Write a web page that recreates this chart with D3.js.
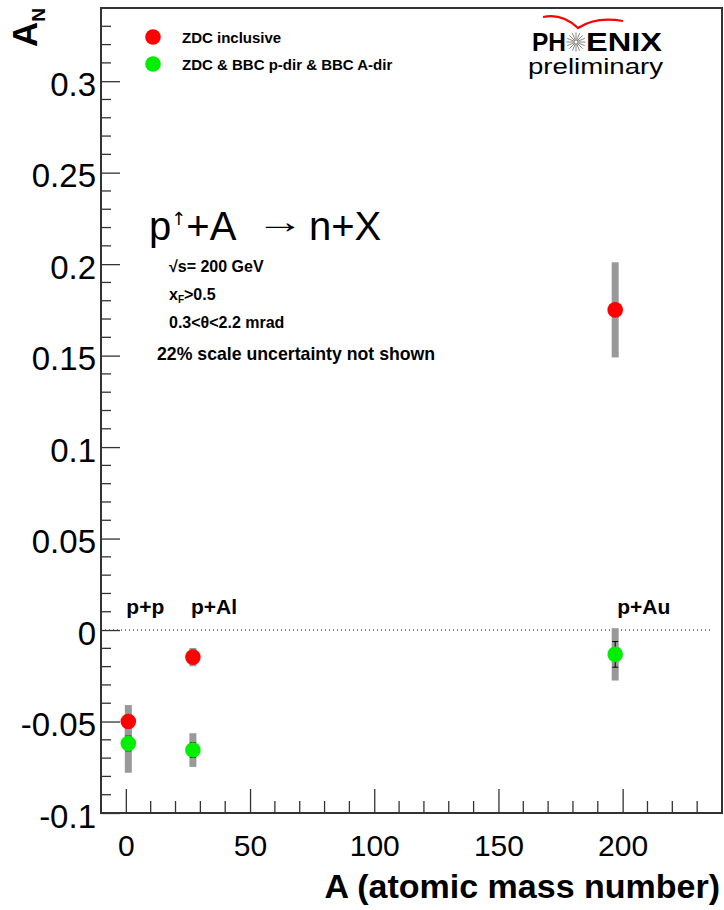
<!DOCTYPE html>
<html>
<head>
<meta charset="utf-8">
<script src="https://cdn.jsdelivr.net/npm/d3@7"></script>
<style>
  html, body { margin: 0; padding: 0; background: #fff; }
  svg { display: block; }
  text { font-family: "Liberation Sans", Arial, Helvetica, sans-serif; }
</style>
</head>
<body>
<svg id="chart" width="724" height="910"></svg>
<script>
// ---- data ----
const systems = ["p+p", "p+Al", "p+Au"];
const massNumber = [1, 27, 197];
const zdcInclusive = [-0.050, -0.0148, 0.175];
const zdcInclusiveSys = [0.009, 0.005, 0.026];
const zdcInclusiveStat = [0.003, 0.003, 0.003];
const zdcBbc = [-0.062, -0.0656, -0.0133];
const zdcBbcSys = [0.016, 0.0092, 0.0143];
const zdcBbcStat = [0.004, 0.004, 0.007];
const seriesNames = ["ZDC inclusive", "ZDC & BBC p-dir & BBC A-dir"];
const seriesColors = ["#ff0000", "#00ee00"];
const xTickValues = [0, 50, 100, 150, 200];
const xTickLabels = ["0", "50", "100", "150", "200"];
const yTickValues = [-0.1, -0.05, 0, 0.05, 0.1, 0.15, 0.2, 0.25, 0.3];
const yTickLabels = ["-0.1", "-0.05", "0", "0.05", "0.1", "0.15", "0.2", "0.25", "0.3"];
const infoLines = ["\u221As= 200 GeV", "x_F>0.5", "0.3<\u03b8<2.2 mrad", "22% scale uncertainty not shown"];

// ---- layout ----
const svg = d3.select("#chart");
const L = 101, R = 722, T = 8, B = 813;
const x = d3.scaleLinear().domain([-10, 240]).range([L, R]);
const y = d3.scaleLinear().domain([-0.1, 0.34]).range([B, T]);
const frameColor = "#333";

// zero line
svg.append("line")
  .attr("x1", L).attr("x2", x(236))
  .attr("y1", y(0)).attr("y2", y(0))
  .attr("stroke", "#000").attr("stroke-width", 1)
  .attr("stroke-dasharray", "1,3");

// frame
svg.append("rect").attr("x", L).attr("y", T).attr("width", R - L).attr("height", B - T)
  .attr("fill", "none").attr("stroke", frameColor).attr("stroke-width", 2);

// x axis
const xMinor = d3.range(0, 241, 10).filter(v => v % 50 !== 0);
const gx = svg.append("g").attr("transform", `translate(0,${B})`);
gx.call(d3.axisBottom(x).tickValues(xTickValues).tickSize(-24).tickPadding(0)
  .tickFormat((d, i) => xTickLabels[i]));
gx.call(g => g.select(".domain").remove());
gx.selectAll(".tick line").attr("stroke", frameColor).attr("stroke-width", 1.3);
gx.selectAll(".tick text").attr("y", 43).attr("dy", 0)
  .attr("font-size", 30).attr("fill", "#000");
gx.selectAll(".minor").data(xMinor).enter().append("line")
  .attr("x1", d => x(d)).attr("x2", d => x(d)).attr("y1", 0).attr("y2", -12)
  .attr("stroke", frameColor).attr("stroke-width", 1.3);

// y axis
const yMinor = d3.range(-10, 35, 1).filter(v => v % 5 !== 0).map(v => v / 100);
const gy = svg.append("g").attr("transform", `translate(${L},0)`);
gy.call(d3.axisLeft(y).tickValues(yTickValues).tickSize(-19).tickPadding(0)
  .tickFormat((d, i) => yTickLabels[i]));
gy.call(g => g.select(".domain").remove());
gy.selectAll(".tick line").attr("stroke", frameColor).attr("stroke-width", 1.3);
gy.selectAll(".tick text").attr("x", -5).attr("dy", 14)
  .attr("font-size", 33).attr("fill", "#000");
gy.selectAll(".minor").data(yMinor).enter().append("line")
  .attr("x1", 0).attr("x2", 10).attr("y1", d => y(d)).attr("y2", d => y(d))
  .attr("stroke", frameColor).attr("stroke-width", 1.3);

// axis titles
svg.append("text").attr("x", 720).attr("y", 898).attr("text-anchor", "end")
  .attr("font-size", 34).attr("font-weight", "bold").text("A (atomic mass number)");
const yt = svg.append("text").attr("transform", "translate(37,8) rotate(-90)")
  .attr("text-anchor", "end").attr("font-weight", "bold");
yt.append("tspan").attr("font-size", 35).text("A");
yt.append("tspan").attr("font-size", 19).attr("dy", 8).text("N");

// points
const series = [
  { vals: zdcInclusive, sys: zdcInclusiveSys, stat: zdcInclusiveStat, color: seriesColors[0] },
  { vals: zdcBbc, sys: zdcBbcSys, stat: zdcBbcStat, color: seriesColors[1] }
];
const gSys = svg.append("g"), gStat = svg.append("g"), gPts = svg.append("g");
series.forEach(s => {
  const rows = massNumber.map((a, i) => ({ a, v: s.vals[i], sys: s.sys[i], st: s.stat[i] }));
  gSys.selectAll(null).data(rows).enter().append("rect")
    .attr("x", d => x(d.a) - 3.5).attr("width", 7)
    .attr("y", d => y(d.v + d.sys)).attr("height", d => y(d.v - d.sys) - y(d.v + d.sys))
    .attr("fill", "#999");
  rows.forEach(d => {
    const g = gStat.append("g").attr("stroke", "#000").attr("stroke-width", 1);
    g.append("line").attr("x1", x(d.a)).attr("x2", x(d.a)).attr("y1", y(d.v + d.st)).attr("y2", y(d.v - d.st));
    g.append("line").attr("x1", x(d.a) - 3).attr("x2", x(d.a) + 3).attr("y1", y(d.v + d.st)).attr("y2", y(d.v + d.st));
    g.append("line").attr("x1", x(d.a) - 3).attr("x2", x(d.a) + 3).attr("y1", y(d.v - d.st)).attr("y2", y(d.v - d.st));
  });
  gPts.selectAll(null).data(rows).enter().append("circle")
    .attr("cx", d => x(d.a)).attr("cy", d => y(d.v)).attr("r", 7.8)
    .attr("fill", s.color);
});

// system labels
svg.selectAll(".sys").data(systems).enter().append("text")
  .attr("x", (d, i) => x(massNumber[i]) - 2 + (i === 2 ? 4 : 0)).attr("y", 614)
  .attr("font-size", 21).attr("font-weight", "bold").text(d => d);

// legend
seriesNames.forEach((n, i) => {
  svg.append("circle").attr("cx", 153).attr("cy", 37 + i * 27).attr("r", 7.8).attr("fill", seriesColors[i]);
  svg.append("text").attr("x", 182).attr("y", 42.5 + i * 27).attr("font-size", 15)
    .attr("font-weight", "bold").text(n);
});

// reaction formula
const f = svg.append("g").attr("font-size", 40);
const f1 = f.append("text").attr("x", 149).attr("y", 240);
f1.append("tspan").text("p");
f1.append("tspan").attr("font-family", "DejaVu Sans").attr("font-size", 18)
  .attr("dy", -15).text("\u2191");
f1.append("tspan").attr("dy", 15).text("+A");
f.append("text").attr("x", 256).attr("y", 233).attr("font-family", "DejaVu Sans")
  .attr("textLength", 48).attr("lengthAdjust", "spacingAndGlyphs")
  .attr("font-size", 34).text("\u2192");
f.append("text").attr("x", 309).attr("y", 240).text("n+X");

// info lines
const info = svg.append("g").attr("font-weight", "bold").attr("font-size", 16);
info.append("text").attr("x", 169).attr("y", 272).text(infoLines[0]);
const xf = info.append("text").attr("x", 169).attr("y", 300);
xf.append("tspan").text("x");
xf.append("tspan").attr("font-size", 10).attr("dy", 3).text("F");
xf.append("tspan").attr("dy", -3).text(infoLines[1].split("_F")[1]);
info.append("text").attr("x", 169).attr("y", 328).text(infoLines[2]);
info.append("text").attr("x", 157).attr("y", 360).attr("font-size", 17.7).text(infoLines[3]);

// PHENIX logo
const logo = svg.append("g");
logo.append("path").attr("d", "M543,17 Q562,13 578,28 Q596,16 623,21")
  .attr("fill", "none").attr("stroke", "#ff0000").attr("stroke-width", 2.2);
logo.append("text").attr("x", 532).attr("y", 51).attr("font-family", "DejaVu Sans")
  .attr("font-weight", "bold").attr("font-size", 26).attr("textLength", 34)
  .attr("lengthAdjust", "spacingAndGlyphs").text("PH");
logo.append("text").attr("x", 586).attr("y", 51).attr("font-family", "DejaVu Sans")
  .attr("font-weight", "bold").attr("font-size", 26).attr("textLength", 76)
  .attr("lengthAdjust", "spacingAndGlyphs").text("ENIX");
const cx = 576, cy = 42;
d3.range(16).forEach(k => {
  const a = k * Math.PI / 8;
  logo.append("line")
    .attr("x1", cx + 1.5 * Math.cos(a)).attr("y1", cy + 1.5 * Math.sin(a))
    .attr("x2", cx + 9.5 * Math.cos(a)).attr("y2", cy + 9.5 * Math.sin(a))
    .attr("stroke", "#777").attr("stroke-width", 0.9);
});
logo.append("text").attr("x", 528).attr("y", 74).attr("font-family", "DejaVu Sans")
  .attr("font-size", 21.5).attr("textLength", 135).attr("lengthAdjust", "spacingAndGlyphs")
  .text("preliminary");
</script>
</body>
</html>
